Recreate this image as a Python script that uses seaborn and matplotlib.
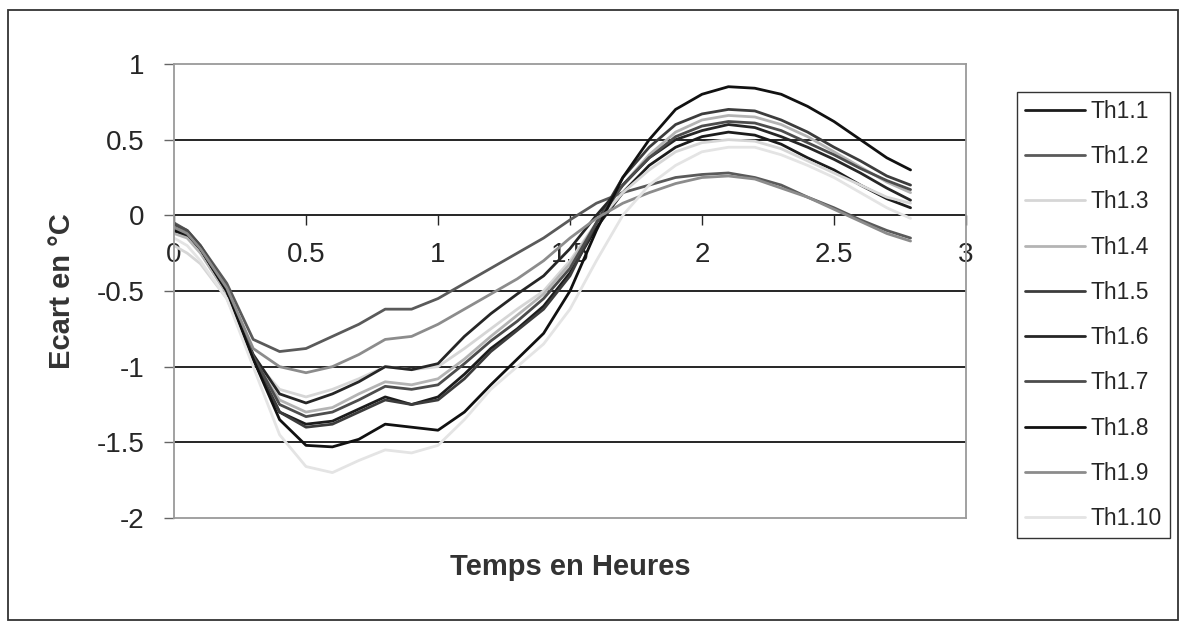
import pandas as pd
import matplotlib.pyplot as plt
import seaborn as sns
from matplotlib.patches import Rectangle

sns.set_style("white")
plt.rcParams['font.family'] = ['Liberation Sans', 'DejaVu Sans']

temps = [0, 0.05, 0.1, 0.2, 0.3, 0.4, 0.5, 0.6, 0.7, 0.8, 0.9, 1.0, 1.1, 1.2, 1.3,
         1.4, 1.5, 1.6, 1.7, 1.8, 1.9, 2.0, 2.1, 2.2, 2.3, 2.4, 2.5, 2.6, 2.7, 2.79]

th1_1 = [-0.10, -0.14, -0.24, -0.50, -0.95, -1.30, -1.38, -1.36, -1.28, -1.20, -1.25, -1.20, -1.05, -0.88, -0.75,
         -0.60, -0.38, -0.08, 0.15, 0.33, 0.45, 0.52, 0.55, 0.53, 0.47, 0.38, 0.30, 0.20, 0.11, 0.05]
th1_2 = [-0.05, -0.10, -0.20, -0.45, -0.82, -0.90, -0.88, -0.80, -0.72, -0.62, -0.62, -0.55, -0.45, -0.35, -0.25,
         -0.15, -0.03, 0.08, 0.15, 0.20, 0.25, 0.27, 0.28, 0.25, 0.20, 0.12, 0.05, -0.03, -0.10, -0.15]
th1_3 = [-0.20, -0.25, -0.32, -0.55, -0.95, -1.15, -1.20, -1.15, -1.08, -1.00, -1.02, -1.00, -0.88, -0.75, -0.62,
         -0.50, -0.30, -0.05, 0.15, 0.30, 0.42, 0.48, 0.50, 0.49, 0.44, 0.36, 0.28, 0.20, 0.12, 0.08]
th1_4 = [-0.12, -0.15, -0.25, -0.52, -0.95, -1.22, -1.30, -1.27, -1.18, -1.10, -1.12, -1.08, -0.95, -0.80, -0.66,
         -0.52, -0.32, -0.05, 0.20, 0.40, 0.55, 0.63, 0.66, 0.65, 0.60, 0.52, 0.42, 0.32, 0.22, 0.15]
th1_5 = [-0.08, -0.12, -0.22, -0.50, -0.95, -1.30, -1.40, -1.38, -1.30, -1.22, -1.25, -1.22, -1.08, -0.90, -0.76,
         -0.62, -0.40, -0.05, 0.25, 0.45, 0.60, 0.67, 0.70, 0.69, 0.63, 0.55, 0.45, 0.36, 0.26, 0.20]
th1_6 = [-0.10, -0.12, -0.22, -0.50, -0.92, -1.18, -1.24, -1.18, -1.10, -1.00, -1.02, -0.98, -0.80, -0.65, -0.52,
         -0.40, -0.22, 0.00, 0.20, 0.38, 0.50, 0.56, 0.60, 0.58, 0.52, 0.45, 0.37, 0.28, 0.18, 0.10]
th1_7 = [-0.06, -0.10, -0.20, -0.48, -0.93, -1.25, -1.33, -1.30, -1.22, -1.13, -1.15, -1.12, -0.98, -0.83, -0.70,
         -0.55, -0.35, -0.05, 0.20, 0.38, 0.52, 0.59, 0.62, 0.61, 0.56, 0.48, 0.40, 0.31, 0.23, 0.17]
th1_8 = [-0.10, -0.12, -0.22, -0.50, -0.95, -1.35, -1.52, -1.53, -1.48, -1.38, -1.40, -1.42, -1.30, -1.12, -0.95,
         -0.78, -0.50, -0.10, 0.25, 0.50, 0.70, 0.80, 0.85, 0.84, 0.80, 0.72, 0.62, 0.50, 0.38, 0.30]
th1_9 = [-0.08, -0.12, -0.22, -0.48, -0.88, -1.00, -1.04, -1.00, -0.92, -0.82, -0.80, -0.72, -0.62, -0.52, -0.42,
         -0.30, -0.15, -0.02, 0.08, 0.15, 0.21, 0.25, 0.26, 0.24, 0.18, 0.12, 0.04, -0.04, -0.12, -0.17]
th1_10 = [-0.15, -0.20, -0.30, -0.55, -1.00, -1.45, -1.66, -1.70, -1.62, -1.55, -1.57, -1.52, -1.35, -1.15, -1.00,
          -0.85, -0.62, -0.30, 0.00, 0.20, 0.33, 0.42, 0.45, 0.45, 0.40, 0.33, 0.25, 0.15, 0.05, -0.02]

series = {
    "Th1.1": th1_1, "Th1.2": th1_2, "Th1.3": th1_3, "Th1.4": th1_4, "Th1.5": th1_5,
    "Th1.6": th1_6, "Th1.7": th1_7, "Th1.8": th1_8, "Th1.9": th1_9, "Th1.10": th1_10,
}
colors = {
    "Th1.1": "#1c1c1c", "Th1.2": "#5a5a5a", "Th1.3": "#d6d6d6", "Th1.4": "#b4b4b4",
    "Th1.5": "#3c3c3c", "Th1.6": "#262626", "Th1.7": "#4c4c4c", "Th1.8": "#111111",
    "Th1.9": "#8c8c8c", "Th1.10": "#e4e4e4",
}

df = pd.DataFrame(
    [(t, name, v) for name, vals in series.items() for t, v in zip(temps, vals)],
    columns=["temps", "capteur", "ecart"],
)

fig = plt.figure(figsize=(11.84, 6.27), dpi=100)
ax = fig.add_axes([174 / 1184, 1 - 518 / 627, 792 / 1184, 454 / 627])

sns.lineplot(data=df, x="temps", y="ecart", hue="capteur", palette=colors,
             hue_order=list(series), linewidth=2, ax=ax, legend=True)

ax.set_xlim(0, 3)
ax.set_ylim(-2, 1)

# horizontal gridlines like the Excel chart
for y in [0.5, 0, -0.5, -1, -1.5]:
    ax.axhline(y, color="black", lw=1.2, zorder=0)

for s in ax.spines.values():
    s.set_color("#9a9a9a")
    s.set_linewidth(1.3)

ax.set_yticks([1, 0.5, 0, -0.5, -1, -1.5, -2])
ax.set_yticklabels(["1", "0.5", "0", "-0.5", "-1", "-1.5", "-2"])
ax.tick_params(axis="y", direction="out", length=7, width=1, color="#666666",
               labelsize=20, pad=14, left=True)

# category axis crosses at y = 0, labels below it
ax.set_xticks([])
sec = ax.secondary_xaxis(2 / 3)
sec.set_xticks([0, 0.5, 1, 1.5, 2, 2.5, 3])
sec.set_xticklabels(["0", "0.5", "1", "1.5", "2", "2.5", "3"])
sec.xaxis.set_ticks_position("bottom")
sec.spines["bottom"].set_color("black")
for side in ["top", "left", "right"]:
    sec.spines[side].set_visible(False)
sec.tick_params(axis="x", direction="out", length=7, width=1, labelsize=20, pad=12,
                bottom=True, labelbottom=True, top=False, labeltop=False)

ax.set_xlabel("Temps en Heures", fontsize=21, fontweight="bold", color="#333333")
ax.set_ylabel("Ecart en °C", fontsize=21, fontweight="bold", color="#333333")
ax.xaxis.set_label_coords(0.5, -0.078)
ax.yaxis.set_label_coords(-0.124, 0.5)

h, l = ax.get_legend_handles_labels()
leg = ax.legend(h, l, loc="upper left", bbox_to_anchor=(1017 / 1184, 1 - 92 / 627),
                bbox_transform=fig.transFigure, fontsize=16.5, frameon=True,
                fancybox=False, edgecolor="black", handlelength=2.6,
                labelspacing=0.97, borderpad=0.35, handletextpad=0.25,
                borderaxespad=0)
leg.get_frame().set_linewidth(1)

# outer chart border
fig.patches.append(Rectangle((8 / 1184, 7 / 627), 1170 / 1184, 610 / 627,
                             transform=fig.transFigure, fill=False,
                             edgecolor="#333333", lw=1.3))

fig.savefig("out.png", dpi=100)
plt.close(fig)
